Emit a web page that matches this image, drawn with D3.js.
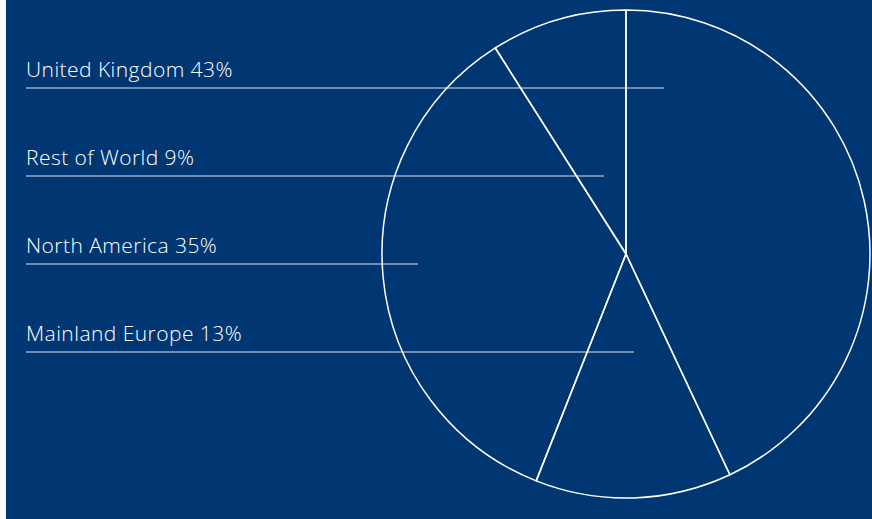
<!DOCTYPE html>
<html>
<head>
<meta charset="utf-8">
<script src="https://cdn.jsdelivr.net/npm/d3@7"></script>
<style>
  html, body { margin: 0; padding: 0; background: #fff; }
  svg { display: block; }
</style>
</head>
<body>
<div id="chart"></div>
<script>
// regions in pie order (clockwise from 12 o'clock)
const regions = ["United Kingdom", "Mainland Europe", "North America", "Rest of World"];
const shares = [43, 13, 35, 9];
// legend order, top to bottom
const legendOrder = ["United Kingdom", "Rest of World", "North America", "Mainland Europe"];
// x where each legend rule stops (reads off the picture)
const ruleEnds = [664, 604, 418, 634];

const width = 872, height = 519;
const bg = "#003773";

const svg = d3.select("#chart")
    .append("svg")
    .attr("width", width)
    .attr("height", height);

// blue panel, small white strip on the left
svg.append("rect")
    .attr("x", 6)
    .attr("y", 0)
    .attr("width", width - 6)
    .attr("height", height)
    .attr("fill", bg);

const cx = 626, cy = 254, radius = 244;

const data = regions.map((r, i) => ({region: r, value: shares[i]}));

const pie = d3.pie()
    .value(d => d.value)
    .sort(null);

const arc = d3.arc()
    .innerRadius(0)
    .outerRadius(radius);

const pieG = svg.append("g")
    .attr("transform", `translate(${cx},${cy})`);

// legend rules (drawn under the pie lines)
const legendY = d3.scalePoint()
    .domain(legendOrder)
    .range([88, 352]);

const legend = svg.append("g");

legend.selectAll("line")
    .data(legendOrder)
    .join("line")
    .attr("x1", 26)
    .attr("x2", (d, i) => ruleEnds[i])
    .attr("y1", d => legendY(d))
    .attr("y2", d => legendY(d))
    .attr("stroke", "#ffffff")
    .attr("stroke-opacity", 0.85)
    .attr("stroke-width", 1);

legend.selectAll("text")
    .data(legendOrder)
    .join("text")
    .attr("x", 26)
    .attr("y", d => legendY(d) - 11)
    .attr("fill", "#ffffff")
    .style("font-family", "'Open Sans', sans-serif")
    .style("font-weight", 300)
    .style("font-size", "21px")
    .style("letter-spacing", "0.45px")
    .text(d => d + " " + shares[regions.indexOf(d)] + "%");

pieG.selectAll("path")
    .data(pie(data))
    .join("path")
    .attr("d", arc)
    .attr("fill", "none")
    .attr("stroke", "#ffffff")
    .attr("stroke-width", 1.5)
    .attr("stroke-linejoin", "round");
</script>
</body>
</html>
